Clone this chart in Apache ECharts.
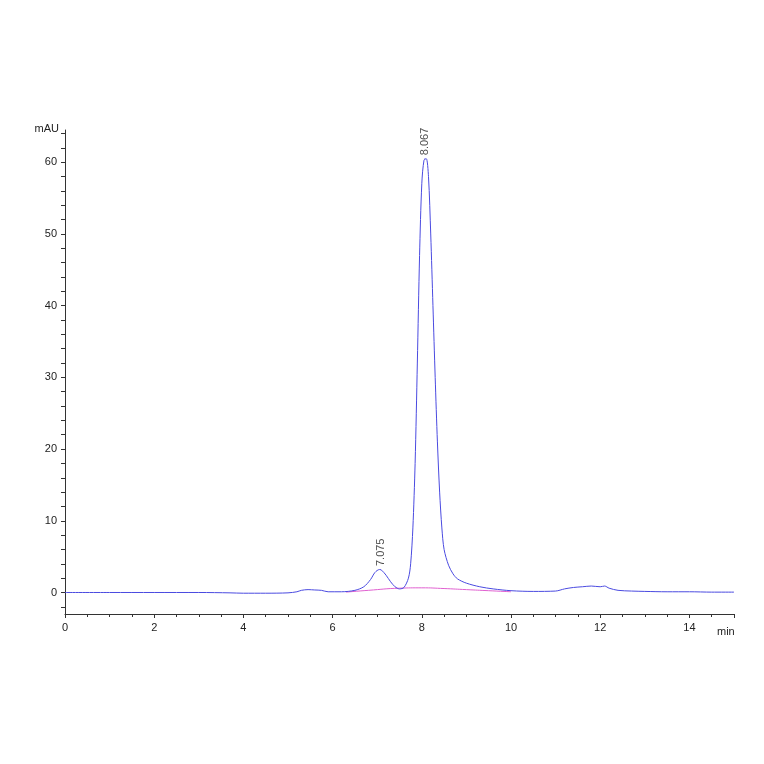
<!DOCTYPE html>
<html><head><meta charset="utf-8">
<script src="https://cdn.jsdelivr.net/npm/echarts@6/dist/echarts.min.js"></script>
<style>html,body{margin:0;padding:0;background:#fff}#c{width:764px;height:764px}</style>
</head><body><div id="c"></div>
<script>
const times = [0,1,2,3,3.7,4,4.5,5,5.2,5.3,5.45,5.6,5.75,5.9,6.2,6.5,6.7,6.85,6.95,7.05,7.1,7.2,7.3,7.4,7.5,7.6,7.7,7.75,7.8,7.85,7.9,7.95,8.0,8.05,8.1,8.15,8.2,8.25,8.3,8.35,8.4,8.45,8.5,8.6,8.7,8.8,9.0,9.3,9.6,10,10.5,11,11.2,11.4,11.6,11.8,12.0,12.1,12.2,12.4,12.7,13,13.5,14,14.5,15];
const signal = [0,0,0,0,-0.05,-0.1,-0.1,-0.05,0.1,0.3,0.4,0.35,0.3,0.1,0.1,0.3,0.8,1.8,2.8,3.2,3.1,2.4,1.5,0.8,0.5,0.7,2.0,4,9,18,32,47,57,60.3,60.5,58,50,40,30,21,14,9,6,3.8,2.6,1.9,1.3,0.8,0.5,0.25,0.15,0.2,0.5,0.7,0.8,0.9,0.8,0.9,0.6,0.3,0.2,0.15,0.1,0.1,0.05,0.05];
const baseX = [6.3,6.8,7.5,8.0,8.5,9.0,9.5,10.0];
const baseY = [0.05,0.3,0.6,0.65,0.55,0.4,0.25,0.1];
const peaks = [[7.075,3.2,'7.075'],[8.067,60.5,'8.067']];
const yLabels = [0,10,20,30,40,50,60];
const yTicks = [-2,0,2,4,6,8,10,12,14,16,18,20,22,24,26,28,30,32,34,36,38,40,42,44,46,48,50,52,54,56,58,60,62,64];
const pts = times.map((t,i)=>[t,signal[i]]);
const bpts = baseX.map((t,i)=>[t,baseY[i]]);
const chart = echarts.init(document.getElementById('c'));
const axFont = {fontFamily:'Liberation Sans',fontSize:11,color:'#222'};
chart.setOption({
  animation:false,
  grid:{left:65,right:30,top:130,bottom:150},
  graphic:[{type:'text',left:717,top:626,style:{text:'min',font:'11px Liberation Sans',fill:'#222'}}],
  xAxis:{type:'value',min:0,max:15,interval:2,
    axisLine:{onZero:false,lineStyle:{color:'#333'}},
    axisTick:{lineStyle:{color:'#333'},length:4},
    minorTick:{show:true,splitNumber:4,length:3,lineStyle:{color:'#333'}},
    splitLine:{show:false},
    axisLabel:Object.assign({formatter:v=>v>14?'':v},axFont)},
  yAxis:{type:'value',min:-3,max:64.5,
    axisLine:{show:true,lineStyle:{color:'#333'}},
    axisTick:{show:true,length:4,customValues:yTicks,lineStyle:{color:'#333'}},
    splitLine:{show:false},
    axisLabel:Object.assign({customValues:yLabels},axFont),
    name:'mAU',nameLocation:'end',nameGap:-4,nameTextStyle:Object.assign({align:'right',padding:[0,6,0,0]},axFont)},
  series:[
    {type:'line',data:bpts,symbol:'none',smooth:true,lineStyle:{color:'#e060d0',width:1}},
    {type:'line',data:pts,symbol:'none',smooth:0.3,lineStyle:{color:'#4a4ae0',width:1}},
    {type:'scatter',data:peaks.map(p=>[p[0],p[1],p[2]]),symbolSize:1,itemStyle:{color:'#4a4ae0'},
     label:{show:true,formatter:p=>p.value[2],rotate:90,position:'top',align:'left',verticalAlign:'middle',distance:3,fontFamily:'Liberation Sans',fontSize:11,color:'#222'}}
  ]
});
</script></body></html>
